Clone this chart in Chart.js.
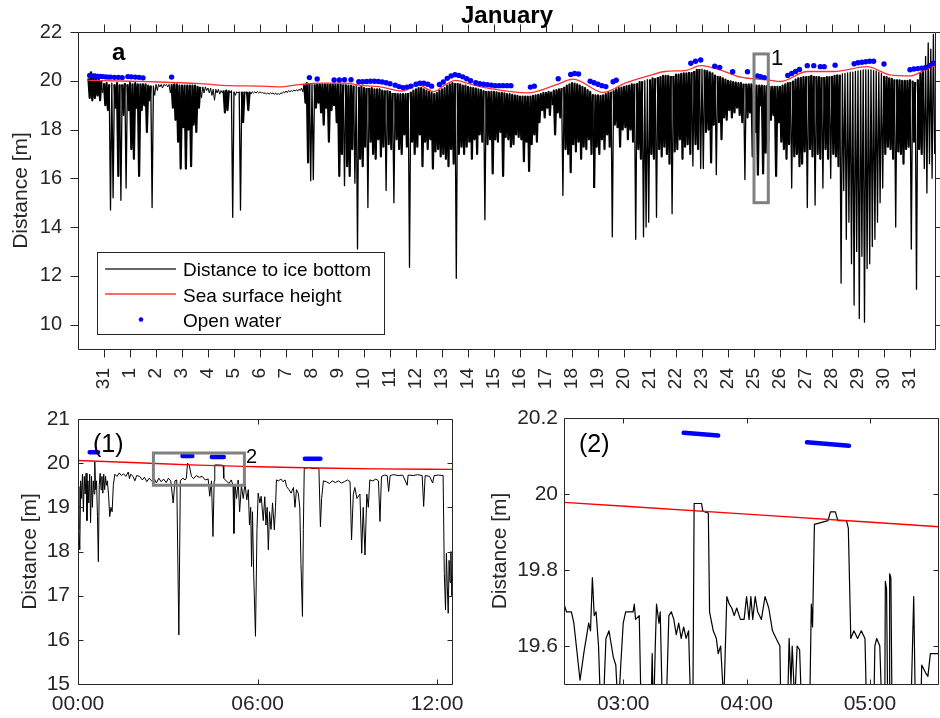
<!DOCTYPE html>
<html>
<head>
<meta charset="utf-8">
<title>Distance to ice bottom - January</title>
<script src="https://cdn.jsdelivr.net/npm/chart.js@4.4.0/dist/chart.umd.min.js"></script>
<style>
  body { margin: 0; background: #fff; }
  #wrap { position: relative; width: 940px; height: 718px; overflow: hidden; }
  #wrap canvas { position: absolute; }
  #topChart { left: 0; top: 0; }
  #zoom1Chart { left: 0; top: 400px; }
  #zoom2Chart { left: 470px; top: 400px; }
</style>
</head>
<body>
<div id="wrap">
  <canvas id="topChart" width="940" height="400"></canvas>
  <canvas id="zoom1Chart" width="470" height="318"></canvas>
  <canvas id="zoom2Chart" width="470" height="318"></canvas>
</div>
<script>
// ---------- panel a: whole month ----------
const dayTicks = [0, 1, 2, 3, 4, 5, 6, 7, 8, 9, 10, 11, 12, 13, 14, 15, 16, 17, 18, 19, 20, 21, 22, 23, 24, 25, 26, 27, 28, 29, 30, 31];
const dayLabels = ['31', '1', '2', '3', '4', '5', '6', '7', '8', '9', '10', '11', '12', '13', '14', '15', '16', '17', '18', '19', '20', '21', '22', '23', '24', '25', '26', '27', '28', '29', '30', '31'];
const distTicks = [10, 12, 14, 16, 18, 20, 22];
const seriesNames = ['Distance to ice bottom', 'Sea surface height', 'Open water'];

// ice trace read in 0.1-day bins starting 30 Dec 14:24: highest and lowest reading of each bin
const iceStart = -0.6;
const iceStep = 0.1;
const iceTop = [
  20.1, 20.35, 20.2, 20.1, 20.05, 20.0,
  19.9, 19.9, 19.85, 19.9, 19.85, 19.9, 19.85, 19.85, 19.9, 19.85,
  19.9, 19.85, 19.9, 19.85, 19.85, 19.85, 19.85, 19.8, 19.8, 19.8,
  19.85, 19.85, 19.85, 19.85, 19.85, 19.85, 19.85, 19.85, 19.85, 19.8,
  19.8, 19.8, 19.8, 19.8, 19.8, 19.8, 19.75, 19.75, 19.75, 19.75,
  19.7, 19.7, 19.65, 19.65, 19.65, 19.6, 19.6, 19.6, 19.6, 19.6,
  19.55, 19.55, 19.55, 19.55, 19.55, 19.55, 19.55, 19.55, 19.55, 19.55,
  19.55, 19.52, 19.5, 19.5, 19.5, 19.5, 19.5, 19.48, 19.5, 19.55,
  19.58, 19.6, 19.6, 19.62, 19.62, 19.65, 19.7, 19.85, 19.9, 19.9,
  19.85, 19.85, 19.85, 19.85, 19.85, 19.85, 19.85, 19.85, 19.85, 19.85,
  19.85, 19.85, 19.85, 19.85, 19.8, 19.8, 19.8, 19.8, 19.75, 19.75,
  19.7, 19.7, 19.7, 19.7, 19.65, 19.65, 19.65, 19.6, 19.6, 19.6,
  19.55, 19.5, 19.5, 19.45, 19.45, 19.45, 19.45, 19.5, 19.55, 19.6,
  19.65, 19.7, 19.7, 19.65, 19.6, 19.55, 19.5, 19.45, 19.5, 19.6,
  19.65, 19.7, 19.8, 19.85, 19.9, 19.9, 19.9, 19.85, 19.8, 19.8,
  19.75, 19.72, 19.7, 19.68, 19.65, 19.62, 19.6, 19.58, 19.55, 19.55,
  19.55, 19.52, 19.5, 19.5, 19.48, 19.45, 19.45, 19.42, 19.4, 19.38,
  19.35, 19.35, 19.35, 19.35, 19.35, 19.38, 19.4, 19.42, 19.45, 19.5,
  19.5, 19.55, 19.55, 19.6, 19.62, 19.65, 19.7, 19.75, 19.8, 19.85,
  19.9, 19.88, 19.85, 19.8, 19.75, 19.7, 19.62, 19.55, 19.45, 19.4,
  19.4, 19.38, 19.4, 19.45, 19.5, 19.55, 19.6, 19.65, 19.7, 19.72,
  19.75, 19.78, 19.8, 19.85, 19.88, 19.9, 19.95, 19.98, 20.0, 20.05,
  20.05, 20.1, 20.1, 20.15, 20.15, 20.2, 20.2, 20.2, 20.2, 20.2,
  20.25, 20.25, 20.28, 20.3, 20.3, 20.32, 20.35, 20.4, 20.45, 20.48,
  20.48, 20.45, 20.4, 20.35, 20.3, 20.25, 20.2, 20.15, 20.1, 20.05,
  20.0, 19.98, 19.95, 19.92, 19.9, 19.9, 19.88, 19.88, 19.85, 19.85,
  19.85, 19.8, 19.8, 19.8, 19.78, 19.78, 19.75, 19.75, 19.75, 19.75,
  19.75, 19.8, 19.85, 19.9, 19.95, 20.0, 20.05, 20.1, 20.12, 20.15,
  20.18, 20.2, 20.2, 20.2, 20.18, 20.15, 20.15, 20.15, 20.15, 20.18,
  20.2, 20.2, 20.22, 20.25, 20.28, 20.3, 20.32, 20.35, 20.35, 20.38,
  20.4, 20.42, 20.45, 20.45, 20.45, 20.45, 20.42, 20.4, 20.35, 20.3,
  20.2, 20.15, 20.1, 20.08, 20.05, 20.05, 20.02, 20.0, 20.0, 20.0,
  20.05, 20.0, 19.95, 20.05, 20.3, 20.6, 21.0, 21.55, 21.3, 21.9
];
const iceLow = [
  19.3, 19.2, 19.3, 19.4, 19.2, 19.5,
  19.0, 18.8, 14.7, 15.2, 18.9, 16.1, 15.1, 18.6, 15.6, 18.8,
  17.2, 16.8, 18.9, 16.1, 18.8, 19.0, 17.9, 19.2, 14.8, 19.4,
  19.6, 19.75, 19.7, 19.8, 19.75, 19.5, 18.9, 18.4, 17.5, 16.4,
  18.1, 16.4, 18.0, 16.5, 18.2, 17.9, 18.9, 19.3, 19.5, 19.6,
  19.5, 19.4, 19.2, 19.5, 19.45, 19.5, 18.7, 18.8, 19.5, 14.4,
  19.4, 19.5, 14.7, 18.3, 19.5, 18.8, 19.45, 19.5, 19.5, 19.5,
  19.5, 19.48, 19.46, 19.45, 19.47, 19.45, 19.43, 19.44, 19.48, 19.5,
  19.52, 19.55, 19.56, 19.58, 19.58, 19.6, 19.55, 19.1, 16.65, 15.9,
  15.95, 18.9, 19.1, 18.7, 18.2, 18.9, 17.5, 18.8, 19.0, 18.3,
  16.1, 17.0, 15.7, 16.5, 16.1, 17.2, 15.8, 13.1, 16.8, 16.5,
  17.3, 14.8, 17.5, 17.0, 16.8, 17.6, 16.9, 17.3, 15.5, 17.4,
  17.2, 15.0, 17.6, 17.2, 17.0, 17.8, 17.3, 12.35, 17.5, 17.0,
  17.3, 17.8, 16.5, 17.5, 17.2, 17.6, 16.4, 17.1, 17.2, 16.9,
  17.0, 16.8, 16.5, 17.2, 16.6, 11.9, 17.0, 17.3, 17.0, 17.3,
  17.5, 16.8, 17.6, 17.0, 17.8, 17.5, 14.3, 17.4, 17.6, 16.2,
  17.6, 17.5, 17.9, 16.1, 17.7, 17.6, 17.3, 17.4, 17.8, 17.7,
  17.6, 16.7, 17.5, 16.3, 17.4, 17.8, 17.5, 18.3, 18.8, 18.5,
  18.9, 18.6, 19.0, 17.8, 18.7, 18.5, 15.3, 17.2, 17.0, 16.25,
  17.4, 17.1, 17.5, 16.8, 17.3, 17.2, 17.6, 17.0, 15.6, 17.3,
  17.0, 17.6, 17.2, 17.8, 17.3, 13.6, 18.2, 18.1, 17.3, 18.0,
  18.1, 17.6, 18.0, 17.5, 13.5, 17.2, 16.8, 13.6, 14.0, 14.2,
  17.0, 16.8, 14.4, 17.2, 16.9, 17.3, 17.0, 16.6, 14.55, 17.1,
  17.2, 17.6, 16.8, 17.3, 17.4, 17.0, 16.5, 17.4, 17.2, 16.4,
  16.4, 17.9, 18.0, 16.65, 18.2, 16.15, 18.3, 17.6, 18.5, 18.4,
  18.8, 18.5, 18.7, 18.9, 18.6, 18.3, 15.95, 18.5, 18.7, 16.9,
  17.9, 16.15, 19.0, 16.2, 17.05, 17.5, 18.4, 18.6, 16.1, 18.3,
  17.5, 17.2, 16.8, 17.4, 15.6, 16.9, 17.0, 16.5, 16.6, 17.1,
  14.8, 17.2, 16.9, 14.9, 17.0, 16.8, 15.6, 17.2, 16.8, 16.0,
  17.0, 16.9, 16.5, 11.7, 15.5, 13.5, 14.2, 12.5, 10.8, 13.0,
  10.25, 12.8, 10.1, 12.3, 12.5, 13.2, 13.5, 14.2, 15.0, 15.6,
  17.0, 17.3, 17.2, 16.8, 14.0, 17.1, 17.0, 16.6, 17.2, 17.3,
  13.1, 17.5, 11.45, 17.2, 17.0, 16.4, 15.4, 16.6, 16.0, 17.0
];

const sshDays = [-0.6, 1.0, 2.15, 3.68, 4.83, 5.98, 6.74, 7.51, 8.28, 9.23, 10.0, 10.57, 11.46, 12.1, 12.68, 13.07, 13.52, 14.02, 14.9, 16.3, 17.4, 18.05, 19.2, 20.04, 21.0, 21.57, 22.4, 22.95, 23.87, 24.48, 25.52, 26.02, 27.05, 28.08, 29.35, 30.23, 31.0, 31.53, 32.0];
const sshVals = [20.02, 19.98, 19.95, 19.88, 19.8, 19.78, 19.75, 19.84, 19.9, 19.9, 19.8, 19.76, 19.58, 19.82, 19.56, 19.8, 20.02, 19.88, 19.67, 19.5, 19.84, 20.07, 19.52, 19.9, 20.22, 20.38, 20.43, 20.62, 20.38, 20.15, 20.04, 19.97, 20.38, 20.38, 20.58, 20.24, 20.2, 20.42, 20.65];

const openDays = [-0.55, -0.45, -0.35, -0.25, -0.15, -0.05, 0.05, 0.15, 0.25, 0.4, 0.55, 0.7,
  0.92, 1.05, 1.2, 1.35, 1.5, 2.6, 7.9, 8.2, 8.85, 9.05, 9.25, 9.5,
  9.8, 9.95, 10.1, 10.25, 10.4, 10.55, 10.7, 10.85, 11.0,
  11.2, 11.35, 11.5, 11.65, 11.8, 12.0, 12.15, 12.3, 12.45, 12.6,
  12.9, 13.05, 13.2, 13.35, 13.5, 13.65, 13.8, 13.95, 14.1,
  14.3, 14.45, 14.6, 14.75, 14.9, 15.05, 15.2, 15.35, 15.5, 15.65,
  16.4, 16.55, 17.47, 17.95, 18.1, 18.25, 18.7, 18.85, 19.0, 19.15, 19.3, 19.58, 19.7,
  22.57, 22.75, 22.95, 23.49, 23.68, 24.18, 24.75, 25.13, 25.25, 25.4,
  26.3, 26.45, 26.6, 26.75, 27.05, 27.3, 27.55, 27.7, 28.12,
  28.85, 29.0, 29.15, 29.3, 29.45, 29.6, 30.0,
  31.0, 31.15, 31.3, 31.45, 31.6, 31.75, 31.9];
const openVals = [20.22, 20.2, 20.2, 20.18, 20.18, 20.17, 20.16, 20.15, 20.15, 20.14, 20.14, 20.13,
  20.17, 20.16, 20.15, 20.14, 20.12, 20.15, 20.13, 20.07, 20.03, 20.03, 20.04, 20.04,
  19.96, 19.96, 19.97, 19.98, 19.98, 19.97, 19.95, 19.92, 19.88,
  19.82, 19.76, 19.72, 19.74, 19.78, 19.86, 19.9, 19.9, 19.86, 19.78,
  19.85, 19.95, 20.1, 20.2, 20.25, 20.22, 20.16, 20.08, 20.0,
  19.92, 19.88, 19.86, 19.84, 19.82, 19.8, 19.8, 19.8, 19.8, 19.8,
  19.74, 19.78, 20.08, 20.26, 20.3, 20.28, 19.98, 19.92, 19.86, 19.8, 19.76, 19.96, 20.02,
  20.72, 20.8, 20.85, 20.6, 20.55, 20.37, 20.37, 20.2, 20.17, 20.13,
  20.22, 20.3, 20.38, 20.46, 20.62, 20.62, 20.58, 20.58, 20.64,
  20.7, 20.74, 20.76, 20.78, 20.8, 20.8, 20.69,
  20.45, 20.48, 20.5, 20.52, 20.55, 20.62, 20.72];

const box1Days = [25.0, 25.55];
const box1Dist = [15.0, 21.1];

// ---------- panel (1): 25 January, 00:00 - 12:30 ----------
const hourTicks1 = [0, 6, 12];
const hourLabels1 = ['00:00', '06:00', '12:00'];
const distTicks1 = [15, 16, 17, 18, 19, 20, 21];

const p1Time = [0.00, 0.03, 0.06, 0.09, 0.12, 0.15, 0.18, 0.21, 0.24, 0.27, 0.30, 0.33, 0.36, 0.39, 0.42, 0.45, 0.48, 0.51, 0.54, 0.56,
  0.59, 0.62, 0.65, 0.68, 0.71, 0.74, 0.77, 0.80, 0.83, 0.86, 0.89, 0.92, 0.95, 0.98, 1.02, 1.06, 1.10, 1.14, 1.18, 1.23,
  1.30, 1.38, 1.45, 1.52, 1.60, 1.68, 1.72, 1.76, 1.84, 1.90, 1.96, 2.06, 2.15, 2.22, 2.30, 2.38, 2.46, 2.55, 2.62, 2.70,
  2.78, 2.86, 2.95, 3.02, 3.10, 3.18, 3.24, 3.30, 3.37, 3.42, 3.50, 3.58, 3.62, 3.66, 3.72, 3.79, 3.86, 3.95, 4.05, 4.15,
  4.25, 4.35, 4.40, 4.46, 4.51, 4.55, 4.57, 4.70, 4.85, 4.87, 4.95, 5.05, 5.12, 5.18, 5.21, 5.25, 5.30, 5.35, 5.40, 5.46,
  5.52, 5.58, 5.64, 5.69, 5.73, 5.77, 5.80, 5.83, 5.87, 5.93, 5.98, 6.02, 6.08, 6.12, 6.19, 6.24, 6.28, 6.32, 6.36, 6.40,
  6.45, 6.50, 6.56, 6.60, 6.63, 6.70, 6.78, 6.85, 6.92, 6.97, 7.05, 7.12, 7.20, 7.25, 7.30, 7.36, 7.41, 7.45, 7.50, 7.53,
  7.56, 7.70, 7.85, 8.05, 8.10, 8.14, 8.20, 8.30, 8.40, 8.50, 8.60, 8.70, 8.80, 8.90, 9.00, 9.09, 9.14, 9.20, 9.25, 9.32,
  9.42, 9.48, 9.53, 9.59, 9.65, 9.70, 9.75, 9.85, 9.95, 10.04, 10.09, 10.14, 10.25, 10.33, 10.38, 10.43, 10.55, 10.70, 10.85, 11.00,
  11.03, 11.20, 11.35, 11.50, 11.55, 11.60, 11.75, 11.85, 11.90, 12.05, 12.20, 12.24, 12.28, 12.31, 12.34, 12.37, 12.40, 12.43, 12.46, 12.49,
  12.52];
const p1Dist = [19.47, 18.5, 18.04, 19.6, 19.2, 19.75, 18.9, 19.7, 19.3, 19.77, 18.7, 19.6, 19.1, 19.75, 18.65, 19.7, 19.0, 19.6, 19.3, 20.03,
  19.4, 19.6, 18.8, 17.77, 19.5, 19.77, 19.4, 19.7, 19.32, 19.75, 19.4, 19.7, 19.5, 19.6, 19.3, 18.79, 19.0, 18.9, 19.5, 19.75,
  19.7, 19.78, 19.72, 19.76, 19.7, 19.8, 19.65, 19.75, 19.7, 19.6, 19.72, 19.7, 19.62, 19.68, 19.58, 19.66, 19.6, 19.65, 19.55, 19.66,
  19.58, 19.64, 19.56, 19.66, 19.6, 19.1, 19.6, 19.62, 16.11, 19.6, 19.66, 19.62, 19.66, 20.0, 19.95, 19.7, 19.65, 19.72, 19.68, 19.7,
  19.62, 19.64, 19.25, 19.6, 18.34, 19.6, 19.96, 19.96, 19.95, 19.66, 19.6, 19.54, 19.62, 19.5, 18.41, 19.5, 19.2, 19.62, 18.9, 19.5,
  19.2, 19.54, 19.17, 19.4, 18.6, 19.0, 17.66, 18.9, 17.5, 16.08, 18.5, 19.32, 19.1, 19.25, 18.7, 19.24, 18.6, 19.0, 18.04, 18.9,
  18.5, 19.1, 18.49, 19.0, 19.62, 19.6, 19.64, 19.58, 19.62, 19.47, 19.4, 19.32, 19.45, 19.0, 19.4, 19.32, 19.0, 17.73, 16.53, 18.5,
  19.88, 19.9, 19.88, 19.88, 18.56, 19.2, 19.6, 19.58, 19.54, 19.6, 19.56, 19.6, 19.55, 19.58, 19.62, 19.58, 18.26, 19.3, 19.45, 19.2,
  19.3, 17.96, 19.0, 17.92, 19.3, 19.0, 19.62, 19.6, 19.64, 19.6, 18.68, 19.7, 19.73, 19.72, 19.36, 19.72, 19.74, 19.72, 19.73, 19.5,
  19.73, 19.72, 19.74, 19.72, 19.02, 19.72, 19.7, 19.55, 19.72, 19.73, 19.72, 17.5, 16.68, 17.96, 17.2, 16.6, 17.8, 17.3, 18.0, 17.0,
  17.5];

const p1SshTime = [0, 2, 4, 6, 8, 10, 12.53];
const p1SshVal = [20.06, 20.01, 19.955, 19.92, 19.89, 19.87, 19.86];

const p1OpenFrom = [0.39, 3.49, 4.47, 7.58];
const p1OpenTo = [0.67, 3.82, 4.87, 8.10];
const p1OpenVal = [20.25, 20.16, 20.14, 20.10];

const box2Hours = [2.52, 5.56];
const box2Dist = [19.5, 20.23];

// ---------- panel (2): 02:30 - 05:35 ----------
const hourTicks2 = [3, 4, 5];
const hourLabels2 = ['03:00', '04:00', '05:00'];
const distTicks2 = [19.6, 19.8, 20, 20.2];

const p2Time = [2.52, 2.54, 2.58, 2.60, 2.65, 2.68, 2.70, 2.72, 2.735, 2.75, 2.765, 2.78, 2.80, 2.82, 2.84, 2.86, 2.885, 2.905, 2.92, 2.94,
  2.96, 2.98, 3.00, 3.02, 3.06, 3.08, 3.09, 3.10, 3.13, 3.15, 3.22, 3.235, 3.245, 3.26, 3.27, 3.29, 3.30, 3.32, 3.35, 3.37,
  3.39, 3.41, 3.43, 3.45, 3.47, 3.49, 3.51, 3.53, 3.55, 3.565, 3.575, 3.635, 3.645, 3.69, 3.70, 3.73, 3.755, 3.77, 3.79, 3.815,
  3.84, 3.86, 3.88, 3.90, 3.92, 3.95, 3.98, 4.00, 4.02, 4.035, 4.05, 4.07, 4.09, 4.12, 4.15, 4.18, 4.21, 4.24, 4.27, 4.28,
  4.33, 4.345, 4.36, 4.37, 4.39, 4.41, 4.43, 4.45, 4.51, 4.525, 4.535, 4.55, 4.66, 4.68, 4.72, 4.74, 4.81, 4.825, 4.845, 4.87,
  4.90, 4.93, 4.96, 4.975, 5.03, 5.04, 5.055, 5.08, 5.10, 5.12, 5.125, 5.135, 5.145, 5.155, 5.16, 5.17, 5.18, 5.33, 5.355, 5.37,
  5.41, 5.42, 5.45, 5.47, 5.49, 5.56];
const p2Dist = [19.71, 19.69, 19.69, 19.66, 19.51, 19.58, 19.62, 19.66, 19.64, 19.78, 19.68, 19.69, 19.60, 19.40, 19.45, 19.62, 19.64, 19.60, 19.57, 19.55,
  19.42, 19.55, 19.66, 19.69, 19.69, 19.69, 19.71, 19.67, 19.68, 19.35, 19.35, 19.58, 19.40, 19.60, 19.71, 19.66, 19.69, 19.40, 19.45, 19.68,
  19.69, 19.67, 19.63, 19.66, 19.62, 19.65, 19.62, 19.64, 19.40, 19.45, 19.975, 19.975, 19.955, 19.95, 19.69, 19.64, 19.62, 19.58, 19.60, 19.45,
  19.73, 19.71, 19.70, 19.68, 19.70, 19.67, 19.67, 19.73, 19.67, 19.73, 19.67, 19.73, 19.69, 19.67, 19.73, 19.70, 19.64, 19.62, 19.60, 19.40,
  19.40, 19.62, 19.50, 19.60, 19.45, 19.60, 19.59, 19.40, 19.40, 19.71, 19.65, 19.92, 19.93, 19.953, 19.953, 19.93, 19.93, 19.91, 19.62, 19.64,
  19.62, 19.64, 19.62, 19.40, 19.40, 19.60, 19.62, 19.60, 19.40, 19.40, 19.77, 19.75, 19.40, 19.40, 19.79, 19.78, 19.40, 19.40, 19.73, 19.40,
  19.40, 19.55, 19.53, 19.52, 19.58, 19.58];

const p2SshTime = [2.52, 4.0, 5.56];
const p2SshVal = [19.978, 19.947, 19.914];

const p2OpenFrom = [3.49, 4.49];
const p2OpenTo = [3.77, 4.83];
const p2OpenFromVal = [20.161, 20.136];
const p2OpenToVal = [20.154, 20.127];

// ---------- helpers ----------
const FONT = '"Liberation Sans", Arial, Helvetica, sans-serif';
const INK = '#262626';
Chart.defaults.font.family = FONT;
Chart.defaults.color = INK;
Chart.defaults.animation = false;

function pairs(xs, ys) {
  return xs.map((x, i) => ({ x: x, y: ys[i] }));
}

// each bin drawn as its high reading then its low reading
function binTrace(start, step, tops, lows) {
  const pts = [];
  tops.forEach((v, i) => {
    const t = start + i * step;
    pts.push({ x: t, y: v });
    pts.push({ x: t + step / 2, y: lows[i] });
  });
  return pts;
}

// thicker strokes for the packed band of keel spikes, hairline elsewhere
function spikeWidth(ctx) {
  const d = Math.abs(ctx.p0.parsed.y - ctx.p1.parsed.y);
  if (d < 0.6) return 1;
  return d > 3.8 ? 1.3 : 2.2;
}

function segments(from, to, v0, v1) {
  const pts = [];
  from.forEach((f, i) => {
    pts.push({ x: f, y: v0[i] });
    pts.push({ x: to[i], y: v1[i] });
    pts.push({ x: to[i], y: null });
  });
  return pts;
}

// fixed axis sizes, no automatic edge padding, so the plot boxes land where the figure has them
function noPad(s) {
  s.paddingLeft = 0; s.paddingRight = 0; s.paddingTop = 0; s.paddingBottom = 0;
}

function xAxis(min, max, ticks, labels, height, tickOpts) {
  return {
    type: 'linear', min: min, max: max,
    grid: { display: false, drawTicks: false }, border: { display: false },
    afterBuildTicks: s => { s.ticks = ticks.map(v => ({ value: v })); },
    afterFit: s => { s.height = height; noPad(s); },
    ticks: Object.assign({ autoSkip: false, maxRotation: 0, minRotation: 0, padding: 8, font: { size: 21 },
      callback: (v, i) => labels[i] }, tickOpts || {})
  };
}

function yAxis(min, max, ticks, width, tickSize, pad, titlePad) {
  return {
    type: 'linear', min: min, max: max,
    grid: { display: false, drawTicks: false }, border: { display: false },
    afterBuildTicks: s => { s.ticks = ticks.map(v => ({ value: v })); },
    afterFit: s => { s.width = width; noPad(s); },
    ticks: { padding: pad, font: { size: tickSize }, callback: v => String(v) },
    title: { display: true, text: 'Distance [m]', font: { size: 21 }, padding: { top: titlePad, bottom: 0 }, color: INK }
  };
}

// frame, tick marks, zoom boxes, labels and legend
function decor(cfg) {
  return {
    id: 'decor',
    afterDatasetsDraw(chart) {
      const { ctx, scales: { x, y } } = chart;
      ctx.save();
      ctx.strokeStyle = '#808080';
      ctx.lineWidth = 3;
      (cfg.boxes || []).forEach(b => {
        const l = x.getPixelForValue(b.x[0]), r = x.getPixelForValue(b.x[1]);
        const t = y.getPixelForValue(b.y[1]), btm = y.getPixelForValue(b.y[0]);
        ctx.strokeRect(l, t, r - l, btm - t);
      });
      ctx.restore();
    },
    afterDraw(chart) {
      const { ctx, chartArea: a, scales: { x, y } } = chart;
      const dir = cfg.tickDir === 'out' ? 1 : -1;
      const len = cfg.tickLen;
      const L = Math.round(a.left) + 0.5, R = Math.round(a.right) - 0.5;
      const T = Math.round(a.top) + 0.5, B = Math.round(a.bottom) + 0.5;
      ctx.save();
      ctx.strokeStyle = INK;
      ctx.lineWidth = 1;
      ctx.beginPath();
      x.ticks.forEach(t => {
        const px = Math.round(x.getPixelForValue(t.value)) + 0.5;
        ctx.moveTo(px, B); ctx.lineTo(px, B + dir * len);
        ctx.moveTo(px, T); ctx.lineTo(px, T - dir * len);
      });
      y.ticks.forEach(t => {
        const py = Math.round(y.getPixelForValue(t.value)) + 0.5;
        ctx.moveTo(L, py); ctx.lineTo(L - dir * len, py);
        ctx.moveTo(R, py); ctx.lineTo(R + dir * len, py);
      });
      ctx.rect(L, T, R - L, B - T);
      ctx.stroke();

      if (cfg.legend) {
        const g = cfg.legend;
        ctx.fillStyle = '#fff';
        ctx.fillRect(g.x, g.y, g.w, g.h);
        ctx.strokeStyle = INK;
        ctx.strokeRect(g.x + 0.5, g.y + 0.5, g.w, g.h);
        ctx.lineWidth = 1.5;
        ctx.strokeStyle = '#333';
        ctx.beginPath(); ctx.moveTo(g.x + 8, g.y + 17); ctx.lineTo(g.x + 79, g.y + 17); ctx.stroke();
        ctx.lineWidth = 2;
        ctx.strokeStyle = '#ff6b6b';
        ctx.beginPath(); ctx.moveTo(g.x + 8, g.y + 42); ctx.lineTo(g.x + 79, g.y + 42); ctx.stroke();
        ctx.fillStyle = '#0000ff';
        ctx.beginPath(); ctx.arc(g.x + 44, g.y + 67.5, 2.3, 0, Math.PI * 2); ctx.fill();
        ctx.fillStyle = '#000';
        ctx.font = '19px ' + FONT;
        ctx.textBaseline = 'alphabetic';
        ctx.textAlign = 'left';
        seriesNames.forEach((s, i) => ctx.fillText(s, g.x + 86, g.y + 24 + i * 25.5));
      }

      (cfg.texts || []).forEach(t => {
        ctx.fillStyle = '#000';
        ctx.font = t.font + ' ' + FONT;
        ctx.textBaseline = 'alphabetic';
        ctx.textAlign = 'left';
        ctx.fillText(t.text, t.x, t.y);
      });
      ctx.restore();
    }
  };
}

// ---------- panel a ----------
new Chart(document.getElementById('topChart'), {
  type: 'line',
  data: {
    datasets: [
      { label: seriesNames[2], data: pairs(openDays, openVals), showLine: false,
        pointRadius: 2.7, pointBackgroundColor: '#0000ff', pointBorderWidth: 0, order: 0 },
      { label: seriesNames[1], data: pairs(sshDays, sshVals), borderColor: '#ff3030', borderWidth: 1.3,
        pointRadius: 0, cubicInterpolationMode: 'monotone', order: 1 },
      { label: seriesNames[0], data: binTrace(iceStart, iceStep, iceTop, iceLow),
        borderColor: '#000', borderWidth: 1, borderJoinStyle: 'round', pointRadius: 0, order: 2,
        segment: { borderWidth: spikeWidth } }
    ]
  },
  options: {
    responsive: false,
    events: [],
    layout: { padding: { left: 0, right: 2, top: 0, bottom: 0 } },
    plugins: {
      legend: { display: false },
      tooltip: { enabled: false },
      title: { display: true, text: 'January', fullSize: false, color: '#000',
        font: { size: 24, weight: 'bold' }, padding: { top: 1.5, bottom: 1.7 } }
    },
    scales: {
      x: xAxis(-1, 32, dayTicks, dayLabels, 51,
        { minRotation: 90, maxRotation: 90, padding: 19, font: { size: 19 } }),
      y: yAxis(9, 22, distTicks, 78, 20, 16, 9)
    }
  },
  plugins: [decor({
    tickDir: 'out', tickLen: 8,
    boxes: [{ x: box1Days, y: box1Dist }],
    legend: { x: 97, y: 252, w: 287, h: 82 },
    texts: [
      { text: 'a', x: 112, y: 60, font: 'bold 24px' },
      { text: '1', x: 771, y: 65, font: '22px' }
    ]
  })]
});

// ---------- panel (1) ----------
new Chart(document.getElementById('zoom1Chart'), {
  type: 'line',
  data: {
    datasets: [
      { data: segments(p1OpenFrom, p1OpenTo, p1OpenVal, p1OpenVal), borderColor: '#0000ff', borderWidth: 4.5,
        borderCapStyle: 'round', pointRadius: 0, spanGaps: false, order: 0 },
      { data: pairs(p1SshTime, p1SshVal), borderColor: '#ff0000', borderWidth: 1.4,
        pointRadius: 0, cubicInterpolationMode: 'monotone', order: 1 },
      { data: pairs(p1Time, p1Dist), borderColor: '#000', borderWidth: 1, borderJoinStyle: 'round',
        pointRadius: 0, order: 2 }
    ]
  },
  options: {
    responsive: false,
    events: [],
    layout: { padding: { left: 0, right: 17, top: 19, bottom: 0 } },
    plugins: { legend: { display: false }, tooltip: { enabled: false } },
    scales: {
      x: xAxis(0, 12.53, hourTicks1, hourLabels1, 34),
      y: yAxis(15, 21, distTicks1, 78, 21, 8, 17.5)
    }
  },
  plugins: [decor({
    tickDir: 'in', tickLen: 5,
    boxes: [{ x: box2Hours, y: box2Dist }],
    texts: [
      { text: '(1)', x: 93, y: 52, font: '25px' },
      { text: '2', x: 246, y: 63, font: '20px' }
    ]
  })]
});

// ---------- panel (2) ----------
new Chart(document.getElementById('zoom2Chart'), {
  type: 'line',
  data: {
    datasets: [
      { data: segments(p2OpenFrom, p2OpenTo, p2OpenFromVal, p2OpenToVal), borderColor: '#0000ff', borderWidth: 4.5,
        borderCapStyle: 'round', pointRadius: 0, spanGaps: false, order: 0 },
      { data: pairs(p2SshTime, p2SshVal), borderColor: '#ff0000', borderWidth: 1.4,
        pointRadius: 0, cubicInterpolationMode: 'monotone', order: 1 },
      { data: pairs(p2Time, p2Dist), borderColor: '#000', borderWidth: 1.2, borderJoinStyle: 'round',
        pointRadius: 0, order: 2 }
    ]
  },
  options: {
    responsive: false,
    events: [],
    layout: { padding: { left: 0, right: 1, top: 18, bottom: 0 } },
    plugins: { legend: { display: false }, tooltip: { enabled: false } },
    scales: {
      x: xAxis(2.52, 5.56, hourTicks2, hourLabels2, 34),
      y: yAxis(19.5, 20.2, distTicks2, 94, 21, 6, 18)
    }
  },
  plugins: [decor({
    tickDir: 'in', tickLen: 5,
    texts: [
      { text: '(2)', x: 109, y: 52, font: '25px' }
    ]
  })]
});
</script>
</body>
</html>
